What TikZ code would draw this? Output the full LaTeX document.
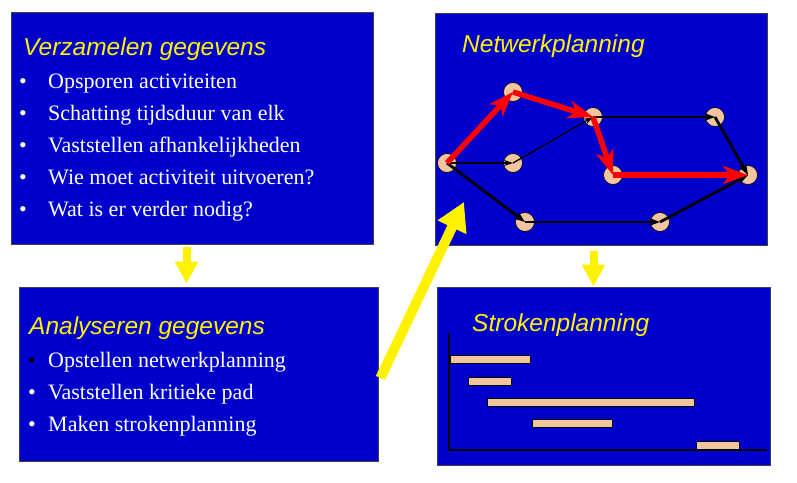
\documentclass[tikz,border=0pt]{standalone}
\usepackage{fontspec}
\setmainfont{Liberation Serif}
\setsansfont{Liberation Sans}
\usetikzlibrary{arrows.meta,positioning,calc}
\definecolor{panelblue}{RGB}{0,0,204}
\definecolor{peach}{RGB}{242,196,160}
\tikzset{
  >=Stealth,
  panel/.style={rectangle, draw=black!75, line width=0.8pt, fill=panelblue, inner sep=0pt},
  kop/.style={anchor=base west, inner sep=0pt, text=yellow,
    font=\sffamily\itshape\fontsize{24.5}{29}\selectfont},
  punt/.style={anchor=base west, inner sep=0pt, text=white,
    font=\fontsize{22}{26}\selectfont},
  knoop/.style={circle, draw=black, line width=0.6pt, fill=peach, minimum size=19pt, inner sep=0pt},
  balk/.style={rectangle, draw=black, line width=0.6pt, fill=peach, minimum height=8pt, inner sep=0pt},
  pijl/.style={draw=yellow, line width=8pt, -{Triangle[length=22pt,width=22pt]}},
  kritiek/.style={draw=red, line width=5.5pt, -{Stealth[length=25pt,width=18pt,inset=7pt]}},
  dik/.style={line width=2.8pt, -{Stealth[length=11pt,width=8pt]}},
  dun/.style={line width=1.3pt, -{Stealth[length=9pt,width=6pt]}}
}

\begin{document}
\begin{tikzpicture}[x=1pt, y=-1pt]
\useasboundingbox (0,0) rectangle (797,482);

% 1 : Panelen
\node[panel, minimum width=362pt, minimum height=232pt] (verz) at (192,128) {};
\node[panel, minimum width=359pt, minimum height=174pt] (anal) at (198.5,374) {};
\node[panel, minimum width=332pt, minimum height=232pt] (net) at (601,129) {};
\node[panel, minimum width=333pt, minimum height=178pt] (strok) at (603.5,376) {};

% 2 : Verzamelen gegevens
\node[kop] (verzkop) at (23,55) {Verzamelen gegevens};
\foreach \tekst [count=\i] in {Opsporen activiteiten, Schatting tijdsduur van elk,
    Vaststellen afhankelijkheden, Wie moet activiteit uitvoeren?, Wat is er verder nodig?} {
  \node[punt] (vdot\i) at (19,56+32*\i) {\textbullet};
  \node[punt] (vtekst\i) at (48,56+32*\i) {\tekst};
}

% 3 : Analyseren gegevens
\node[kop] (analkop) at (29,334) {Analyseren gegevens};
\foreach \kleur/\tekst [count=\i] in {black/Opstellen netwerkplanning, white/Vaststellen kritieke pad,
    white/Maken strokenplanning} {
  \node[punt, text=\kleur] (adot\i) at (28,335+32*\i) {\textbullet};
  \node[punt] (atekst\i) at (48,335+32*\i) {\tekst};
}

% 4 : Netwerkplanning
\node[kop] (netkop) at (462,52) {Netwerkplanning};
\node[knoop] (start) at (447,163) {};
\node[knoop] (top) at (513,92) {};
\node[knoop] (mid) at (513,163) {};
\node[knoop] (hub) at (593,117) {};
\node[knoop] (right) at (715,117) {};
\node[knoop] (crit) at (613,175) {};
\node[knoop] (end) at (748,175) {};
\node[knoop] (low1) at (525,222) {};
\node[knoop] (low2) at (660,222) {};

\draw[dun] (start.center) -- (mid.center);
\draw[dun] (mid.center) -- (hub.center);
\draw[dik] (hub.center) -- (right.center);
\draw[dik] (right.center) -- (end.center);
\draw[dik] (start.center) -- (low1.center);
\draw[dik] (low1.center) -- (low2.center);
\draw[dik] (low2.center) -- (end.center);
% kritieke pad
\draw[kritiek] (start.center) -- (top.center);
\draw[kritiek] (top.center) -- (hub.center);
\draw[kritiek] (hub.center) -- (crit.center);
\draw[kritiek] (crit.center) -- (end.center);

% 5 : Strokenplanning
\node[kop] (strokkop) at (472,331) {Strokenplanning};
\coordinate (asboven) at (449,333);
\coordinate (oorsprong) at (449,450);
\coordinate (aseind) at (767,450);
\draw[line width=1.5pt] (asboven) -- (oorsprong) -- (aseind);
\foreach \x/\y/\w [count=\i] in {490/359.5/80, 489.5/381/43, 590.5/402/207, 572/423.5/80, 717.5/445/43}
  \node[balk, minimum width=\w pt] (balk\i) at (\x,\y) {};

% 6 : Gele pijlen
\coordinate (netpunt) at (464,202);
\draw[pijl, shorten <=3pt, shorten >=3pt] ([xshift=-5.5pt]verz.south) -- ([xshift=-5.5pt]verz.south |- anal.north);
\draw[pijl, line width=10pt, -{Triangle[length=28pt,width=30pt]}] ([xshift=2pt,yshift=-4pt]anal.east) -- (netpunt);
\draw[pijl, shorten <=6pt] ([xshift=-7.5pt]net.south) -- ([xshift=-7.5pt]net.south |- strok.north);

\end{tikzpicture}
\end{document}
